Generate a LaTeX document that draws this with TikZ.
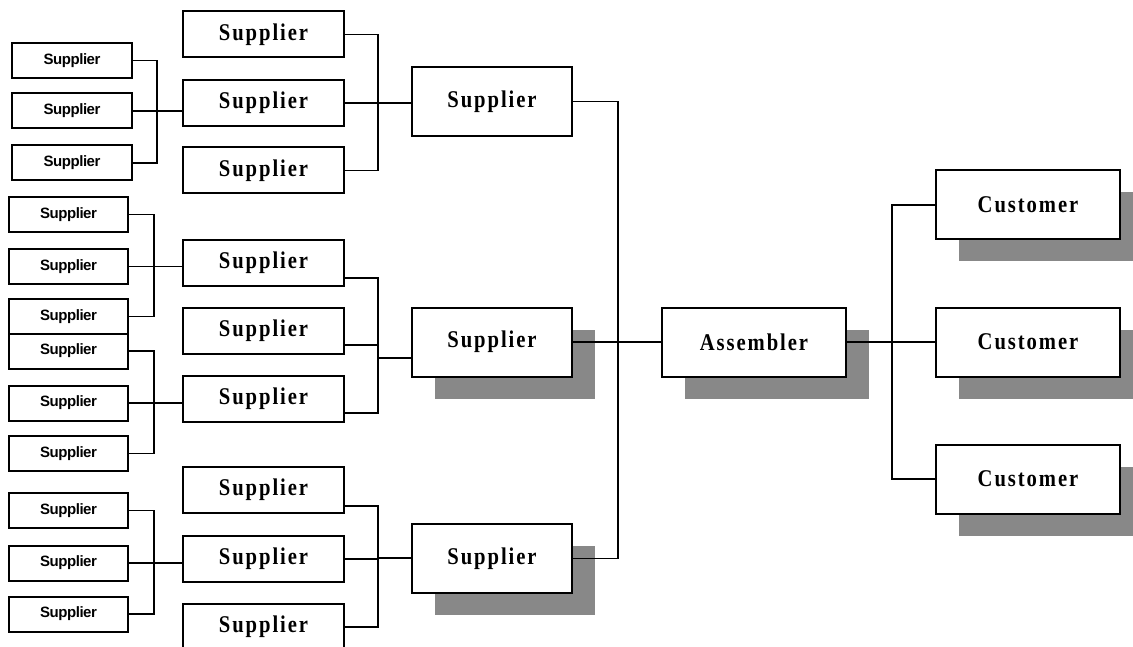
\documentclass[tikz,border=0pt]{standalone}
\usepackage{fontspec}
\newfontfamily\serifbold[FakeStretch=0.86,LetterSpace=8]{Liberation Serif}
\newfontfamily\sansbold[LetterSpace=-3]{Liberation Sans}
\usetikzlibrary{shadows}
\definecolor{shadegray}{RGB}{136,136,136}
\tikzset{
  box/.style={draw, line width=2pt, fill=white, inner sep=0pt},
  smallbox/.style={box, minimum width=119pt, minimum height=35pt, font=\sansbold\bfseries\fontsize{15}{15}\selectfont},
  midbox/.style={box, minimum width=161pt, minimum height=46pt, font=\serifbold\bfseries\fontsize{24}{24}\selectfont},
  bigbox/.style={box, minimum width=160pt, minimum height=69pt, font=\serifbold\bfseries\fontsize{24}{24}\selectfont},
  endbox/.style={box, minimum width=184pt, minimum height=69pt, font=\serifbold\bfseries\fontsize{24}{24}\selectfont},
  shadowed/.style={drop shadow={shadow xshift=23pt, shadow yshift=-22pt, fill=shadegray, opacity=1}},
  link/.style={draw, line width=1.9pt}
}
\begin{document}
\begin{tikzpicture}[x=1pt,y=-1pt]
\useasboundingbox (0,0) rectangle (1133,647);
\clip (0,0) rectangle (1133,647);
% left small suppliers, group 1
\node[smallbox, minimum width=120pt] (s1) at (72,60.5) {Supplier};
\node[smallbox, minimum width=120pt] (s2) at (72,111) {Supplier};
\node[smallbox, minimum width=120pt] (s3) at (72,163) {Supplier};
% group 2
\node[smallbox] (sa) at (68.5,214.5) {Supplier};
\node[smallbox] (sb) at (68.5,266.5) {Supplier};
\node[smallbox] (sc) at (68.5,316.5) {Supplier};
\node[smallbox] (sd) at (68.5,351) {Supplier};
\node[smallbox] (se) at (68.5,403) {Supplier};
\node[smallbox] (sf) at (68.5,453.5) {Supplier};
% group 3
\node[smallbox] (sg) at (68.5,510.5) {Supplier};
\node[smallbox] (sh) at (68.5,563) {Supplier};
\node[smallbox] (si) at (68.5,614) {Supplier};
% middle suppliers
\node[midbox] (m1) at (263.5,34.5) {Supplier};
\node[midbox] (m2) at (263.5,103) {Supplier};
\node[midbox] (m3) at (263.5,170.5) {Supplier};
\node[midbox] (m4) at (263.5,263) {Supplier};
\node[midbox] (m5) at (263.5,331) {Supplier};
\node[midbox] (m6) at (263.5,399) {Supplier};
\node[midbox] (m7) at (263.5,490) {Supplier};
\node[midbox] (m8) at (263.5,559) {Supplier};
\node[midbox] (m9) at (263.5,627) {Supplier};
% big suppliers
\node[bigbox] (b1) at (492,101.5) {Supplier};
\node[bigbox, shadowed] (b2) at (492,342) {Supplier};
\node[bigbox, shadowed] (b3) at (492,558.5) {Supplier};
% assembler and customers
\node[endbox, shadowed] (asm) at (754,342) {Assembler};
\node[endbox, shadowed] (c1) at (1028,205) {Customer};
\node[endbox, shadowed] (c2) at (1028,342) {Customer};
\node[endbox, shadowed] (c3) at (1028,479) {Customer};
% junction coordinates
\coordinate (j1) at (157,111);
\coordinate (j2) at (154,266.5);
\coordinate (j3) at (154,403);
\coordinate (j4) at (154,563);
\coordinate (k1) at (378,102);
\coordinate (k2) at (378,358);
\coordinate (k3) at (378,558);
\coordinate (vt) at (618,101.5);
\coordinate (vb) at (618,558.5);
\coordinate (cj) at (892,342);
% group 1 links
\path[link] (s1.east) -| (j1);
\path[link] (s3.east) -| (j1);
\path[link] (s2.east) -- (s2.east -| m2.west);
\path[link] (m1.east) -| (k1);
\path[link] (m3.east) -| (k1);
\path[link] (m2.east) -- (m2.east -| b1.west);
% group 2 links
\path[link] (sa.east) -| (j2);
\path[link] (sc.east) -| (j2);
\path[link] (sb.east) -- (sb.east -| m4.west);
\path[link] (sd.east) -| (j3);
\path[link] (sf.east) -| (j3);
\path[link] (se.east) -- (se.east -| m6.west);
\path[link] ([yshift=-15pt]m4.east) -| (k2);
\path[link] ([yshift=-14pt]m6.east) -| (k2);
\path[link] ([yshift=-14pt]m5.east) -| (k2);
\path[link] (k2) -- (k2 -| b2.west);
% group 3 links
\path[link] (sg.east) -| (j4);
\path[link] (si.east) -| (j4);
\path[link] (sh.east) -- (sh.east -| m8.west);
\path[link] ([yshift=-16pt]m7.east) -| (k3);
\path[link] (m9.east) -| (k3);
\path[link] (m8.east) -| (k3);
\path[link] (k3) -- (k3 -| b3.west);
% right side links
\path[link] (b1.east) -- (vt) -- (vb) -- (b3.east);
\path[link] (b2.east) -- (asm.west);
\path[link] (asm.east) -- (c2.west);
\path[link] (c1.west) -| (cj);
\path[link] (c3.west) -| (cj);
\end{tikzpicture}
\end{document}
